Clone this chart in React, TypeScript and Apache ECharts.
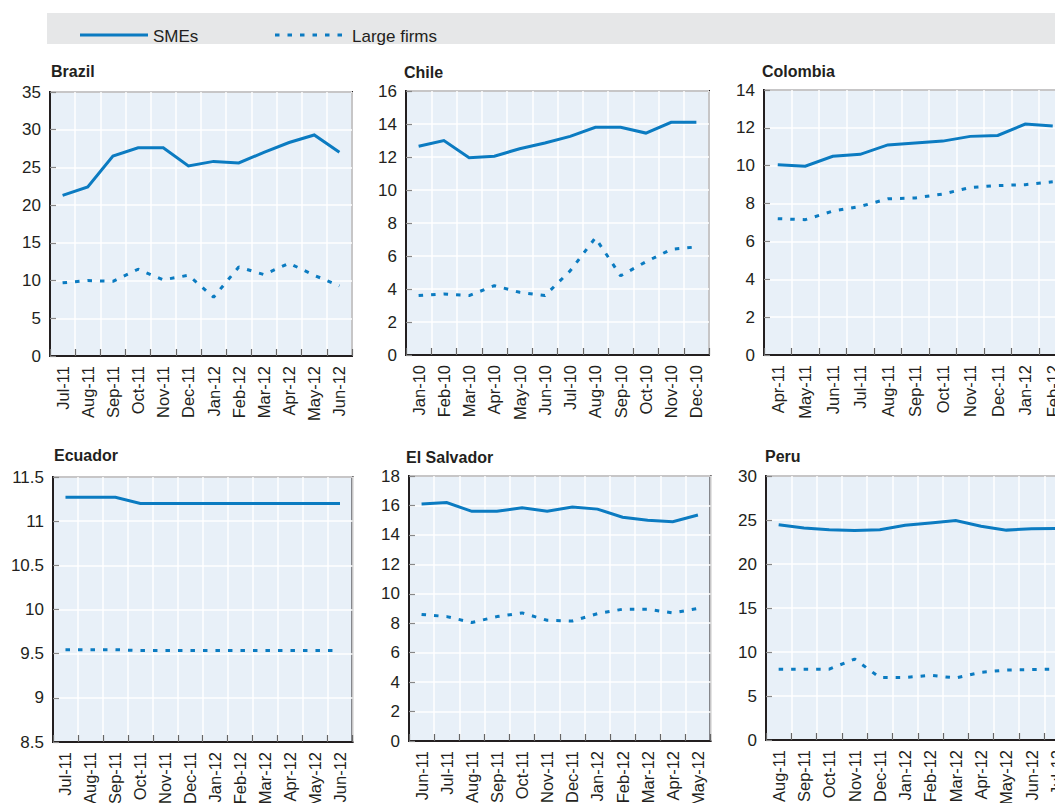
import React, { useEffect, useRef } from "react";
import * as echarts from "echarts";

// ---------- DATA ----------
const brazilMonths = ["Jul-11","Aug-11","Sep-11","Oct-11","Nov-11","Dec-11","Jan-12","Feb-12","Mar-12","Apr-12","May-12","Jun-12"];
const brazilSMEs = [21.3, 22.4, 26.5, 27.6, 27.6, 25.2, 25.8, 25.6, 27.0, 28.3, 29.3, 27.0];
const brazilLarge = [9.7, 10.0, 9.9, 11.5, 10.1, 10.7, 7.8, 11.8, 10.8, 12.3, 10.7, 9.3];

const chileMonths = ["Jan-10","Feb-10","Mar-10","Apr-10","May-10","Jun-10","Jul-10","Aug-10","Sep-10","Oct-10","Nov-10","Dec-10"];
const chileSMEs = [12.65, 13.0, 11.95, 12.05, 12.5, 12.85, 13.25, 13.8, 13.8, 13.45, 14.1, 14.1];
const chileLarge = [3.6, 3.7, 3.6, 4.2, 3.8, 3.6, 5.1, 7.1, 4.8, 5.65, 6.4, 6.55];

const colombiaMonths = ["Apr-11","May-11","Jun-11","Jul-11","Aug-11","Sep-11","Oct-11","Nov-11","Dec-11","Jan-12","Feb-12"];
const colombiaSMEs = [10.05, 9.97, 10.5, 10.6, 11.1, 11.2, 11.3, 11.55, 11.6, 12.2, 12.1];
const colombiaLarge = [7.2, 7.15, 7.6, 7.85, 8.25, 8.3, 8.5, 8.85, 8.95, 9.0, 9.15];

const ecuadorMonths = ["Jul-11","Aug-11","Sep-11","Oct-11","Nov-11","Dec-11","Jan-12","Feb-12","Mar-12","Apr-12","May-12","Jun-12"];
const ecuadorSMEs = [11.27, 11.27, 11.27, 11.2, 11.2, 11.2, 11.2, 11.2, 11.2, 11.2, 11.2, 11.2];
const ecuadorLarge = [9.545, 9.545, 9.545, 9.535, 9.535, 9.535, 9.535, 9.535, 9.535, 9.535, 9.535, 9.535];

const salvadorMonths = ["Jun-11","Jul-11","Aug-11","Sep-11","Oct-11","Nov-11","Dec-11","Jan-12","Feb-12","Mar-12","Apr-12","May-12"];
const salvadorSMEs = [16.1, 16.2, 15.6, 15.6, 15.85, 15.6, 15.9, 15.75, 15.2, 15.0, 14.9, 15.35];
const salvadorLarge = [8.6, 8.45, 8.05, 8.45, 8.7, 8.2, 8.15, 8.65, 8.95, 8.95, 8.7, 9.0];

const peruMonths = ["Aug-11","Sep-11","Oct-11","Nov-11","Dec-11","Jan-12","Feb-12","Mar-12","Apr-12","May-12","Jun-12","Jul-12"];
const peruSMEs = [24.45, 24.1, 23.9, 23.8, 23.9, 24.4, 24.65, 24.95, 24.3, 23.85, 24.0, 24.05];
const peruLarge = [8.05, 8.05, 8.05, 9.2, 7.1, 7.1, 7.35, 7.05, 7.7, 7.95, 8.0, 8.05];

const countryNames = ["Brazil", "Chile", "Colombia", "Ecuador", "El Salvador", "Peru"];
const seriesNames = ["SMEs", "Large firms"];
// y-axis scales: [min, max, interval]
const yScales = [
  [0, 35, 5],
  [0, 16, 2],
  [0, 14, 2],
  [8.5, 11.5, 0.5],
  [0, 18, 2],
  [0, 30, 5],
];

// ---------- LAYOUT / STYLE ----------
const FONT = "'Liberation Sans', Arial, Helvetica, sans-serif";
const BLUE = "#0b7bc1";
const INK = "#231f20";
const PLOT_BG = "#e8f0f8";

const grids = [
  { left: 50, top: 92, width: 302, height: 264 },
  { left: 406, top: 91, width: 303, height: 264 },
  { left: 764, top: 90, width: 302.5, height: 265 },
  { left: 53, top: 477, width: 299.5, height: 265 },
  { left: 409, top: 476, width: 301.5, height: 265 },
  { left: 766, top: 476, width: 303.6, height: 264 },
];
const titlePos = [
  [51, 71],
  [404, 72],
  [762, 71],
  [54, 455],
  [406, 457.5],
  [765, 456.5],
];

export default function App() {
  const ref = useRef<HTMLDivElement>(null);

  useEffect(() => {
    if (!ref.current) return;
    const chart = echarts.init(ref.current, null, { renderer: "svg" });

    const cats = [brazilMonths, chileMonths, colombiaMonths, ecuadorMonths, salvadorMonths, peruMonths];
    const smes = [brazilSMEs, chileSMEs, colombiaSMEs, ecuadorSMEs, salvadorSMEs, peruSMEs];
    const large = [brazilLarge, chileLarge, colombiaLarge, ecuadorLarge, salvadorLarge, peruLarge];

    const gridOpts = grids.map((g) => ({
      ...g,
      show: true,
      backgroundColor: PLOT_BG,
      borderColor: INK,
      borderWidth: 2,
      containLabel: false,
      outerBoundsMode: "none",
    }));

    const xAxes = cats.map((c, i) => ({
      type: "category",
      gridIndex: i,
      data: c,
      boundaryGap: true,
      axisLine: { show: true, lineStyle: { color: INK, width: 2 } },
      axisTick: { show: true, inside: true, length: 7, lineStyle: { color: "#666", width: 1.2 } },
      splitLine: { show: true, lineStyle: { color: "#ffffff", width: 1.5 } },
      axisLabel: {
        rotate: 90,
        interval: 0,
        margin: 10,
        fontFamily: FONT,
        fontSize: 16.5,
        color: INK,
        hideOverlap: false,
      },
    }));

    const yAxes = yScales.map((s, i) => ({
      type: "value",
      gridIndex: i,
      min: s[0],
      max: s[1],
      interval: s[2],
      axisLine: { show: true, lineStyle: { color: INK, width: 2 } },
      axisTick: { show: true, inside: true, length: 6, lineStyle: { color: "#888", width: 1.2 } },
      splitLine: { show: true, lineStyle: { color: "#ffffff", width: 1.5 } },
      axisLabel: {
        margin: 9,
        fontFamily: FONT,
        fontSize: 17,
        color: INK,
        hideOverlap: false,
      },
    }));

    const series: any[] = [];
    cats.forEach((_, i) => {
      series.push({
        type: "line",
        name: seriesNames[0],
        xAxisIndex: i,
        yAxisIndex: i,
        data: smes[i],
        symbol: "none",
        lineStyle: { color: BLUE, width: 3, type: "solid", cap: "butt", join: "miter" },
        z: 3,
      });
      series.push({
        type: "line",
        name: seriesNames[1],
        xAxisIndex: i,
        yAxisIndex: i,
        data: large[i],
        symbol: "none",
        lineStyle: { color: BLUE, width: 3, type: [4.5, 8], cap: "butt" },
        z: 3,
      });
    });

    const graphic: any[] = [
      { type: "rect", shape: { x: 47, y: 13, width: 1010, height: 31 }, style: { fill: "#e6e7e8" }, z: 0 },
      { type: "line", shape: { x1: 80, y1: 35, x2: 148, y2: 35 }, style: { stroke: BLUE, lineWidth: 3 }, z: 1 },
      { type: "text", x: 153, y: 36, style: { text: seriesNames[0], font: `17px ${FONT}`, fill: INK, verticalAlign: "middle", align: "left" }, z: 1 },
      { type: "line", shape: { x1: 275, y1: 35, x2: 345, y2: 35 }, style: { stroke: BLUE, lineWidth: 3, lineDash: [4.5, 8] }, z: 1 },
      { type: "text", x: 352, y: 36, style: { text: seriesNames[1], font: `17px ${FONT}`, fill: INK, verticalAlign: "middle", align: "left" }, z: 1 },
    ];
    countryNames.forEach((n, i) => {
      graphic.push({
        type: "text",
        x: titlePos[i][0],
        y: titlePos[i][1],
        style: { text: n, font: `bold 16px ${FONT}`, fill: INK, verticalAlign: "middle", align: "left" },
        z: 1,
      });
    });

    chart.setOption({
      animation: false,
      backgroundColor: "#ffffff",
      grid: gridOpts,
      xAxis: xAxes,
      yAxis: yAxes,
      series,
      graphic,
    });

    return () => chart.dispose();
  }, []);

  return (
    <div
      ref={ref}
      style={{ position: "absolute", left: 0, top: 0, width: 1055, height: 803, overflow: "hidden" }}
    />
  );
}
